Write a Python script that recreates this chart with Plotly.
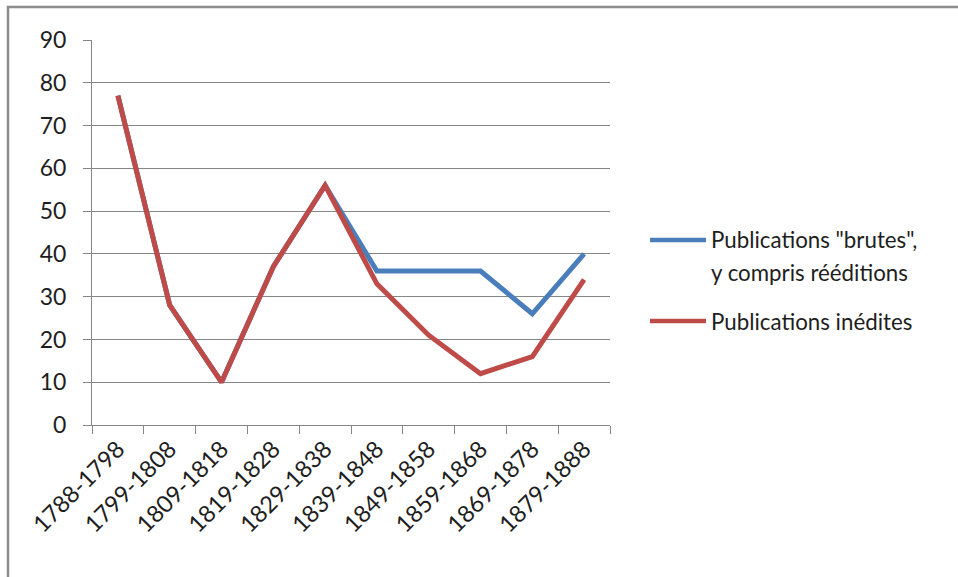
import plotly.graph_objects as go

categories = ["1788-1798", "1799-1808", "1809-1818", "1819-1828", "1829-1838",
              "1839-1848", "1849-1858", "1859-1868", "1869-1878", "1879-1888"]
brutes = [77, 28, 10, 37, 56, 36, 36, 36, 26, 40]
inedites = [77, 28, 10, 37, 56, 33, 21, 12, 16, 34]
y_ticks = [0, 10, 20, 30, 40, 50, 60, 70, 80, 90]
series_names = [['Publications "brutes",', "y compris rééditions"], ["Publications inédites"]]
series_colors = ["#4A7EBB", "#BE4B48"]

W, H = 958, 577
L, R, T, B = 92, 348, 40, 152
PW, PH = W - L - R, H - T - B


def px_x(p):
    return (p - L) / PW


def px_y(p):
    return (H - B - p) / PH


fig = go.Figure()
for vals, names, col in zip([brutes, inedites], series_names, series_colors):
    fig.add_trace(go.Scatter(x=categories, y=vals, mode="lines",
                             name=" ".join(names), showlegend=False,
                             line=dict(color=col, width=5)))

font_family = "Lato, Open Sans, sans-serif"
text_color = "#1e1e1e"
fig.update_layout(
    width=W, height=H,
    margin=dict(l=L, r=R, t=T, b=B),
    paper_bgcolor="white", plot_bgcolor="white",
    font=dict(family=font_family, size=23, color=text_color),
    showlegend=False,
    xaxis=dict(type="category", tickson="boundaries", ticks="outside", ticklen=8,
               tickcolor="#868686", showline=True, linecolor="#868686", linewidth=1,
               showgrid=False, tickangle=-45, tickfont=dict(size=23.5),
               range=[-0.5, len(categories) - 0.5]),
    yaxis=dict(range=[0, 90], tickvals=y_ticks, ticks="outside", ticklen=8,
               tickcolor="#868686", showline=True, linecolor="#868686", linewidth=1,
               showgrid=True, gridcolor="#868686", gridwidth=1, zeroline=False,
               tickfont=dict(size=23), ticklabelstandoff=12),
)

# outer chart frame
fig.add_shape(type="rect", xref="paper", yref="paper",
              x0=px_x(8), x1=px_x(W + 5), y0=px_y(H + 5), y1=px_y(7),
              line=dict(color="#8C8C8C", width=2.5), layer="below")

# legend (drawn manually to match long legend keys)
legend_rows = [240, 321]
line_gap = 32
for names, col, yrow in zip(series_names, series_colors, legend_rows):
    fig.add_shape(type="line", xref="paper", yref="paper",
                  x0=px_x(650), x1=px_x(706), y0=px_y(yrow), y1=px_y(yrow),
                  line=dict(color=col, width=4.5))
    for i, t in enumerate(names):
        fig.add_annotation(xref="paper", yref="paper", x=px_x(709),
                           y=px_y(yrow + i * line_gap), text=t, showarrow=False,
                           xanchor="left", yanchor="middle",
                           font=dict(size=22.3, color=text_color, family=font_family))

fig.write_html("out.html")
